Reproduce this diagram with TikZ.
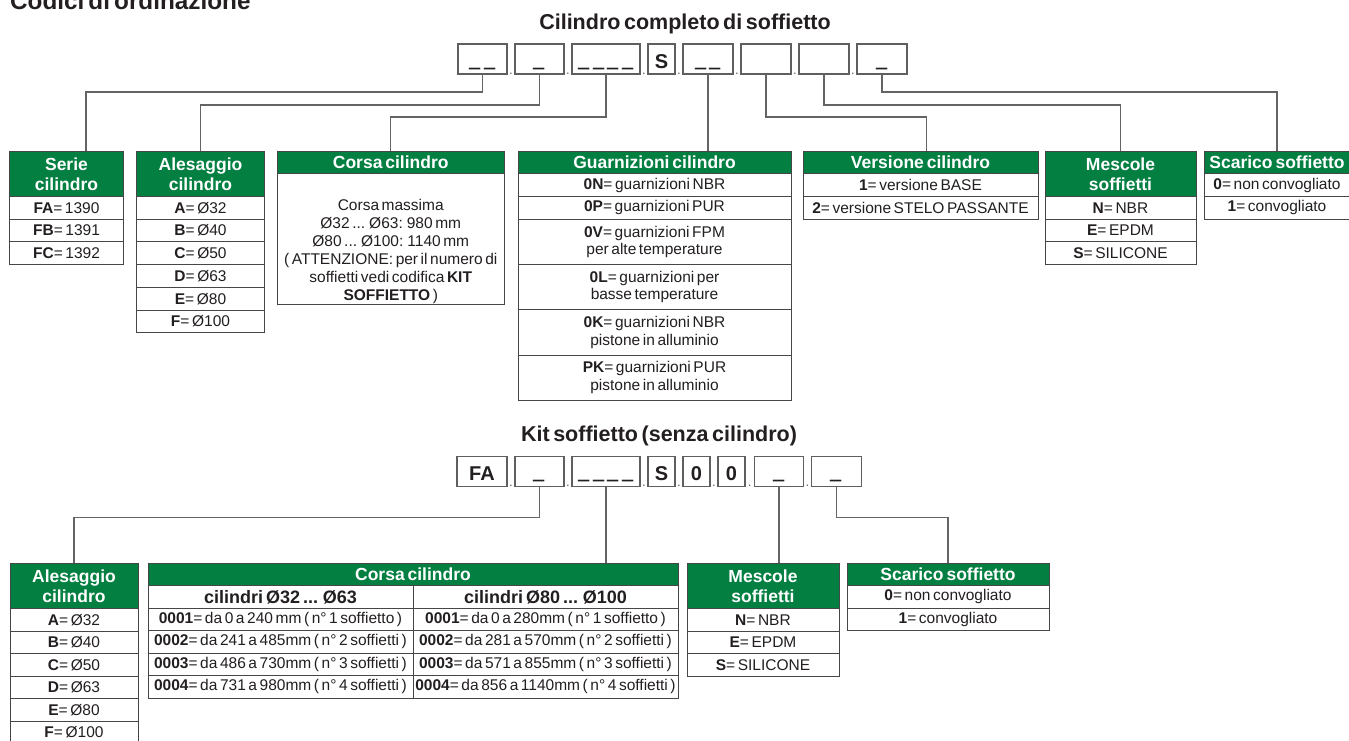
\documentclass[tikz,border=0pt]{standalone}
\usepackage{fontspec}
\usepackage{graphicx}
\setmainfont{Liberation Sans}[WordSpace=0.6]
\usetikzlibrary{positioning,calc}

\definecolor{headgreen}{RGB}{4,127,66}
\definecolor{tablegray}{RGB}{70,70,70}
\definecolor{linkgray}{RGB}{100,100,100}
\definecolor{boxgray}{RGB}{95,95,95}
\definecolor{textdark}{RGB}{35,31,32}

\newcommand{\cellfont}{\fontsize{15.5}{17.5}\selectfont}
\newcommand{\headfont}{\fontsize{17.5}{20}\selectfont\bfseries}
\newcommand{\subfont}{\fontsize{18}{20}\selectfont\bfseries}
\newcommand{\codefont}{\fontsize{20}{22}\selectfont\bfseries}
\newcommand{\titlefont}{\fontsize{21.5}{24}\selectfont\bfseries}
\newcommand{\slot}{\raisebox{4pt}{\scalebox{1}[2.2]{\_}}}

\begin{document}
\begin{tikzpicture}[x=1pt,y=-1pt]

% definitions
\tikzstyle{head} = [rectangle, anchor=north west, minimum height=22.7pt, inner sep=0pt, outer sep=0pt, align=center, draw=tablegray, line width=0.9pt, fill=headgreen, text=white, font=\headfont]

\tikzstyle{head2} = [head, minimum height=45.5pt]

\tikzstyle{cell} = [rectangle, minimum height=22.7pt, inner sep=0pt, outer sep=0pt, align=center, draw=tablegray, line width=0.9pt, fill=white, text=textdark, font=\cellfont]

\tikzstyle{cell2} = [cell, minimum height=45.3pt]

\tikzstyle{kcell} = [cell, minimum height=22.5pt]

\tikzstyle{sub} = [kcell, font=\subfont]

\tikzstyle{code} = [rectangle, minimum height=30pt, inner sep=0pt, outer sep=0pt, draw=boxgray, line width=1.2pt, text=textdark, font=\codefont, text height=18pt, text depth=0pt]

\tikzstyle{dot} = [anchor=base, inner sep=0pt, text=boxgray, font=\fontsize{13}{13}\selectfont]

\tikzstyle{title} = [anchor=base, inner sep=0pt, text=textdark, font=\titlefont]

\tikzstyle{link} = [draw=linkgray, line width=1.3pt]

\useasboundingbox (0,0) rectangle (1349,740);

% titles
\node (codici) [title, anchor=base west, font=\fontsize{24.3}{26}\selectfont\bfseries] at (10,9.5) {Codici di ordinazione};
\node (titolo1) [title] at (685,29) {Cilindro completo di soffietto};
\node (titolo2) [title] at (659,441.5) {Kit soffietto (senza cilindro)};

% code of the cylinder
\node (c1) [code, minimum width=49pt] at (482.5,59) {\slot\,\slot};
\node (c2) [code, minimum width=49pt, right=8pt of c1] {\slot};
\node (c3) [code, minimum width=68pt, right=8pt of c2] {\slot\ \slot\ \slot\ \slot};
\node (c4) [code, minimum width=27pt, right=8pt of c3] {S};
\node (c5) [code, minimum width=50pt, right=8pt of c4] {\slot\,\slot};
\node (c6) [code, minimum width=50pt, right=8pt of c5] {};
\node (c7) [code, minimum width=50pt, right=8pt of c6] {};
\node (c8) [code, minimum width=50pt, right=8pt of c7] {\slot};

\node (dc1) [dot] at ($(c1.south east)!0.5!(c2.south west)$) {.};
\node (dc2) [dot] at ($(c2.south east)!0.5!(c3.south west)$) {.};
\node (dc3) [dot] at ($(c3.south east)!0.5!(c4.south west)$) {.};
\node (dc4) [dot] at ($(c4.south east)!0.5!(c5.south west)$) {.};
\node (dc5) [dot] at ($(c5.south east)!0.5!(c6.south west)$) {.};
\node (dc6) [dot] at ($(c6.south east)!0.5!(c7.south west)$) {.};
\node (dc7) [dot] at ($(c7.south east)!0.5!(c8.south west)$) {.};

% tables of the cylinder
\node (serie) [head2, minimum width=114pt] at (9.5,151) {Serie\\cilindro};
\node (serFA) [cell, minimum width=114pt, below=0pt of serie] {\textbf{FA}= 1390};
\node (serFB) [cell, minimum width=114pt, below=0pt of serFA] {\textbf{FB}= 1391};
\node (serFC) [cell, minimum width=114pt, below=0pt of serFB] {\textbf{FC}= 1392};

\node (ales) [head2, minimum width=128pt] at (136.5,151) {Alesaggio\\cilindro};
\node (alA) [cell, minimum width=128pt, below=0pt of ales] {\textbf{A}= Ø32};
\node (alB) [cell, minimum width=128pt, below=0pt of alA] {\textbf{B}= Ø40};
\node (alC) [cell, minimum width=128pt, below=0pt of alB] {\textbf{C}= Ø50};
\node (alD) [cell, minimum width=128pt, below=0pt of alC] {\textbf{D}= Ø63};
\node (alE) [cell, minimum width=128pt, below=0pt of alD] {\textbf{E}= Ø80};
\node (alF) [cell, minimum width=128pt, below=0pt of alE] {\textbf{F}= Ø100};

\node (corsa) [head, minimum width=227.5pt] at (277,151) {Corsa cilindro};
\node (corsaBody) [cell, minimum width=227.5pt, minimum height=131pt, below=0pt of corsa] {};
\node (corsaText) [align=center, text=textdark, font=\fontsize{15.5}{18}\selectfont, yshift=-12pt] at (corsaBody.center) {Corsa massima\\Ø32 ... Ø63: 980 mm\\Ø80 ... Ø100: 1140 mm\\( ATTENZIONE: per il numero di\\soffietti vedi codifica \textbf{KIT}\\\textbf{SOFFIETTO} )};

\node (guarn) [head, minimum width=273pt] at (518,151) {Guarnizioni cilindro};
\node (gu0N) [cell, minimum width=273pt, below=0pt of guarn] {\textbf{0N}= guarnizioni NBR};
\node (gu0P) [cell, minimum width=273pt, below=0pt of gu0N] {\textbf{0P}= guarnizioni PUR};
\node (gu0V) [cell2, minimum width=273pt, below=0pt of gu0P] {\textbf{0V}= guarnizioni FPM\\per alte temperature};
\node (gu0L) [cell2, minimum width=273pt, below=0pt of gu0V] {\textbf{0L}= guarnizioni per\\basse temperature};
\node (gu0K) [cell2, minimum width=273pt, below=0pt of gu0L] {\textbf{0K}= guarnizioni NBR\\pistone in alluminio};
\node (guPK) [cell2, minimum width=273pt, below=0pt of gu0K] {\textbf{PK}= guarnizioni PUR\\pistone in alluminio};

\node (vers) [head, minimum width=235pt] at (803,151) {Versione cilindro};
\node (ve1) [cell, minimum width=235pt, below=0pt of vers] {\textbf{1}= versione BASE};
\node (ve2) [cell, minimum width=235pt, below=0pt of ve1] {\textbf{2}= versione STELO PASSANTE};

\node (mesc) [head2, minimum width=151pt] at (1045,151) {Mescole\\soffietti};
\node (meN) [cell, minimum width=151pt, below=0pt of mesc] {\textbf{N}= NBR};
\node (meE) [cell, minimum width=151pt, below=0pt of meN] {\textbf{E}= EPDM};
\node (meS) [cell, minimum width=151pt, below=0pt of meE] {\textbf{S}= SILICONE};

\node (scar) [head, minimum width=146pt] at (1204,151) {Scarico soffietto};
\node (sc0) [cell, minimum width=146pt, below=0pt of scar] {\textbf{0}= non convogliato};
\node (sc1) [cell, minimum width=146pt, below=0pt of sc0] {\textbf{1}= convogliato};

\coordinate (serieIn) at ([xshift=19.5pt]serie.north);
\coordinate (versIn) at ([xshift=6pt]vers.north);

\draw [link] (c1.south) -- ++(0,18) -| (serieIn);
\draw [link] (c2.south) -- ++(0,31) -| (ales.north);
\draw [link] (c3.south) -- ++(0,43) -| (corsa.north);
\draw [link] (c5.south) -- (c5.south |- guarn.north);
\draw [link] (c6.south) -- ++(0,43) -| (versIn);
\draw [link] (c7.south) -- ++(0,31) -| (mesc.north);
\draw [link] (c8.south) -- ++(0,18) -| (scar.north);

% code of the kit
\node (k1) [code, minimum width=50pt] at (482,471.5) {FA};
\node (k2) [code, minimum width=49pt, right=8pt of k1] {\slot};
\node (k3) [code, minimum width=68pt, right=8pt of k2] {\slot\ \slot\ \slot\ \slot};
\node (k4) [code, minimum width=27pt, right=8pt of k3] {S};
\node (k5) [code, minimum width=27pt, right=8pt of k4] {0};
\node (k6) [code, minimum width=27pt, right=8pt of k5] {0};
\node (k7) [code, minimum width=49pt, right=9.5pt of k6] {\slot};
\node (k8) [code, minimum width=50pt, right=8pt of k7] {\slot};

\node (dk1) [dot] at ($(k1.south east)!0.5!(k2.south west)$) {.};
\node (dk2) [dot] at ($(k2.south east)!0.5!(k3.south west)$) {.};
\node (dk3) [dot] at ($(k3.south east)!0.5!(k4.south west)$) {.};
\node (dk4) [dot] at ($(k4.south east)!0.5!(k5.south west)$) {.};
\node (dk5) [dot] at ($(k5.south east)!0.5!(k6.south west)$) {.};
\node (dk6) [dot] at ($(k6.south east)!0.5!(k7.south west)$) {.};
\node (dk7) [dot] at ($(k7.south east)!0.5!(k8.south west)$) {.};

% tables of the kit
\node (kales) [head2, minimum width=128pt] at (10,563) {Alesaggio\\cilindro};
\node (kalA) [kcell, minimum width=128pt, below=0pt of kales] {\textbf{A}= Ø32};
\node (kalB) [kcell, minimum width=128pt, below=0pt of kalA] {\textbf{B}= Ø40};
\node (kalC) [kcell, minimum width=128pt, below=0pt of kalB] {\textbf{C}= Ø50};
\node (kalD) [kcell, minimum width=128pt, below=0pt of kalC] {\textbf{D}= Ø63};
\node (kalE) [kcell, minimum width=128pt, below=0pt of kalD] {\textbf{E}= Ø80};
\node (kalF) [kcell, minimum width=128pt, below=0pt of kalE] {\textbf{F}= Ø100};

\node (kcorsa) [head, minimum width=530pt] at (148,563) {Corsa cilindro};
\node (kcolA) [sub, minimum width=265pt, below right=0pt of kcorsa.south west] {cilindri Ø32 ... Ø63};
\node (kcolB) [sub, minimum width=265pt, right=0pt of kcolA] {cilindri Ø80 ... Ø100};
\node (kA1) [kcell, minimum width=265pt, below=0pt of kcolA] {\textbf{0001}= da 0 a 240 mm ( n° 1 soffietto )};
\node (kA2) [kcell, minimum width=265pt, below=0pt of kA1] {\textbf{0002}= da 241 a 485mm ( n° 2 soffietti )};
\node (kA3) [kcell, minimum width=265pt, below=0pt of kA2] {\textbf{0003}= da 486 a 730mm ( n° 3 soffietti )};
\node (kA4) [kcell, minimum width=265pt, below=0pt of kA3] {\textbf{0004}= da 731 a 980mm ( n° 4 soffietti )};
\node (kB1) [kcell, minimum width=265pt, below=0pt of kcolB] {\textbf{0001}= da 0 a 280mm ( n° 1 soffietto )};
\node (kB2) [kcell, minimum width=265pt, below=0pt of kB1] {\textbf{0002}= da 281 a 570mm ( n° 2 soffietti )};
\node (kB3) [kcell, minimum width=265pt, below=0pt of kB2] {\textbf{0003}= da 571 a 855mm ( n° 3 soffietti )};
\node (kB4) [kcell, minimum width=265pt, below=0pt of kB3] {\textbf{0004}= da 856 a 1140mm ( n° 4 soffietti )};

\node (kmesc) [head2, minimum width=152pt] at (687,563) {Mescole\\soffietti};
\node (kmeN) [kcell, minimum width=152pt, below=0pt of kmesc] {\textbf{N}= NBR};
\node (kmeE) [kcell, minimum width=152pt, below=0pt of kmeN] {\textbf{E}= EPDM};
\node (kmeS) [kcell, minimum width=152pt, below=0pt of kmeE] {\textbf{S}= SILICONE};

\node (kscar) [head, minimum width=202pt] at (847,563) {Scarico soffietto};
\node (ksc0) [kcell, minimum width=202pt, below=0pt of kscar] {\textbf{0}= non convogliato};
\node (ksc1) [kcell, minimum width=202pt, below=0pt of ksc0] {\textbf{1}= convogliato};

\draw [link] (k2.south) -- ++(0,31) -| (kales.north);
\draw [link] (k3.south) -- (k3.south |- kcorsa.north);
\draw [link] (k7.south) -- (k7.south |- kmesc.north);
\draw [link] (k8.south) -- ++(0,31) -| (kscar.north);

\end{tikzpicture}
\end{document}
